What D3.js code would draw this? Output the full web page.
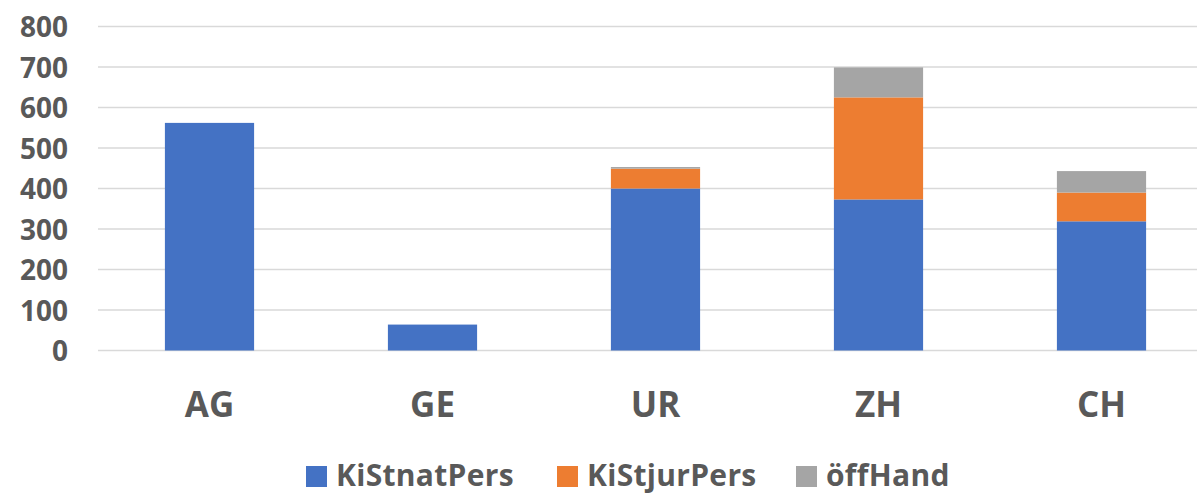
<!DOCTYPE html>
<html>
<head>
<meta charset="utf-8">
<script src="https://cdn.jsdelivr.net/npm/d3@7"></script>
<style>
  body { margin: 0; background: #fff; }
  text { font-family: "Open Sans", sans-serif; font-weight: bold; fill: #595959; }
</style>
</head>
<body>
<svg id="chart"></svg>
<script>
var cantons = ["AG", "GE", "UR", "ZH", "CH"];
var seriesNames = ["KiStnatPers", "KiStjurPers", "öffHand"];
var kiStnatPers = [562, 64, 400, 373, 319];
var kiStjurPers = [0, 0, 49, 252, 71];
var oeffHand = [0, 0, 4, 74, 53];
var yTicks = [0, 100, 200, 300, 400, 500, 600, 700, 800];
var colors = ["#4472C4", "#ED7D31", "#A5A5A5"];

var rows = cantons.map(function(c, i) {
    return { canton: c, KiStnatPers: kiStnatPers[i], KiStjurPers: kiStjurPers[i], "öffHand": oeffHand[i] };
});

var svg = d3.select("#chart")
    .attr("width", 1197)
    .attr("height", 494);

var xScale = d3.scaleBand().domain(cantons).range([98, 1213]).paddingInner(0.6).paddingOuter(0.3);
var yScale = d3.scaleLinear().domain([0, 800]).range([350.5, 26.5]);

// gridlines
svg.append("g")
    .selectAll("line")
    .data(yTicks)
    .enter().append("line")
    .attr("x1", 98)
    .attr("x2", 1197)
    .attr("y1", d => yScale(d))
    .attr("y2", d => yScale(d))
    .attr("stroke", "#d9d9d9")
    .attr("stroke-width", 1.5);

// y axis labels
var yAxis = svg.append("g")
    .attr("transform", "translate(68,0)")
    .call(d3.axisLeft(yScale).tickValues(yTicks).tickSize(0).tickPadding(0));
yAxis.select(".domain").remove();
yAxis.selectAll("text")
    .attr("font-size", 28)
    .attr("font-family", null)
    .attr("dy", "0.36em")
    .style("font-family", "'Open Sans', sans-serif");

// stacked bars
var stacked = d3.stack().keys(seriesNames)(rows);

svg.append("g")
    .selectAll("g")
    .data(stacked)
    .enter().append("g")
    .attr("fill", (d, i) => colors[i])
    .selectAll("rect")
    .data(d => d.filter(p => p[1] > p[0]))
    .enter().append("rect")
    .attr("x", d => xScale(d.data.canton))
    .attr("y", d => yScale(d[1]))
    .attr("width", xScale.bandwidth())
    .attr("height", d => yScale(d[0]) - yScale(d[1]));

// category labels
var xAxis = svg.append("g")
    .attr("transform", "translate(0,417)")
    .call(d3.axisBottom(xScale).tickSize(0).tickPadding(0));
xAxis.select(".domain").remove();
xAxis.selectAll("text")
    .attr("font-size", 35)
    .attr("font-family", null)
    .attr("dy", 0)
    .attr("y", 0)
    .style("font-family", "'Open Sans', sans-serif");

// legend
var legendX = [306, 557, 796];
var legend = svg.append("g")
    .selectAll("g")
    .data(seriesNames)
    .enter().append("g")
    .attr("transform", (d, i) => "translate(" + legendX[i] + ",0)");

legend.append("rect")
    .attr("x", 0)
    .attr("y", 466)
    .attr("width", 21)
    .attr("height", 21)
    .attr("fill", (d, i) => colors[i]);

legend.append("text")
    .attr("x", 30)
    .attr("y", 486)
    .attr("font-size", 30)
    .attr("letter-spacing", 0.3)
    .text(d => d);
</script>
</body>
</html>
